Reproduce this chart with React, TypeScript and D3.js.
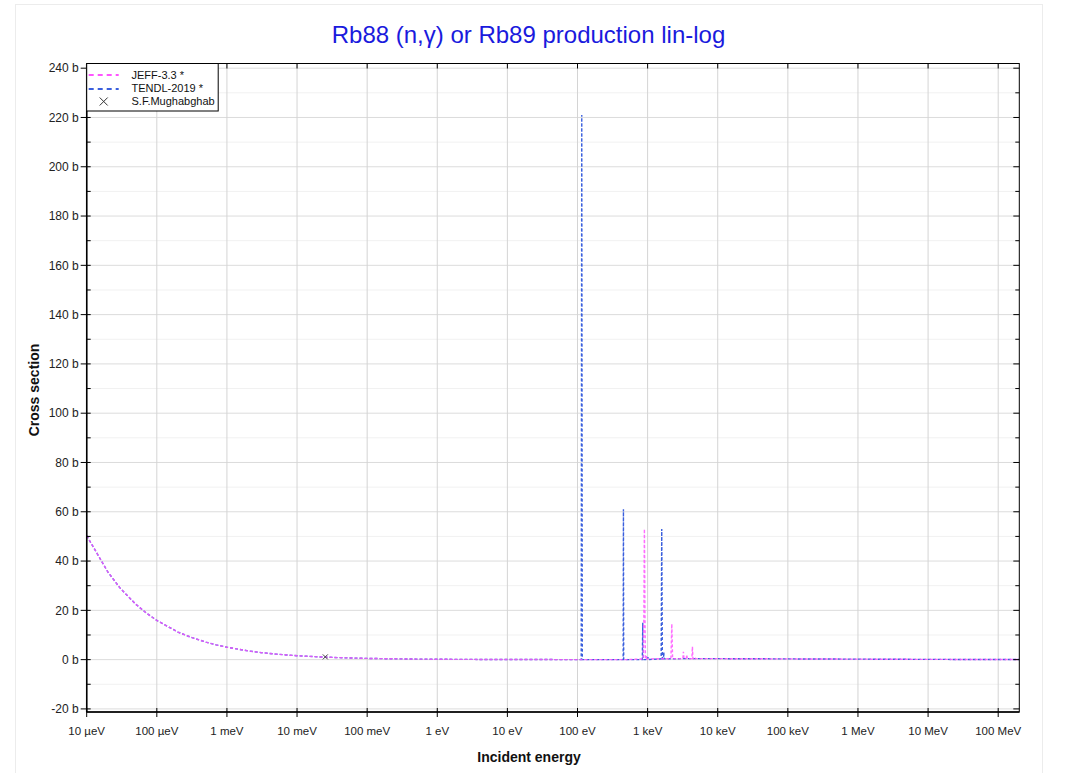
import React from "react";
import * as d3 from "d3";

// ---------- data ----------
// 1/v region shared by both evaluations (eV, barns)
const lowEnergy = [1e-5, 2e-5, 3e-5, 5e-5, 7e-5, 1e-4, 2e-4, 3e-4, 5e-4, 7e-4, 1e-3, 2e-3, 3e-3, 5e-3, 7e-3, 1e-2, 2e-2, 2.53e-2, 5e-2, 0.1, 0.2, 0.5, 1, 2, 5, 10, 20, 50];
const lowXS = [50.3, 35.6, 29.0, 22.5, 19.0, 15.9, 11.2, 9.18, 7.11, 6.01, 5.03, 3.56, 2.9, 2.25, 1.9, 1.59, 1.12, 1.0, 0.71, 0.5, 0.36, 0.22, 0.16, 0.11, 0.071, 0.05, 0.036, 0.022];

// TENDL-2019 resonance + fast region
const tendlEnergy = [100, 113, 115, 117, 200, 448, 452, 456, 840, 853, 866, 1000, 1010, 1020, 1560, 1590, 1620, 1680, 1700, 1720, 3000, 1e4, 1e5, 1e6, 1e7, 1e8, 2e8];
const tendlXS = [0.02, 0.02, 221, 0.02, 0.016, 0.01, 61, 0.01, 0.01, 15, 0.01, 0.01, 1.0, 0.01, 0.3, 53, 0.3, 0.3, 3, 0.3, 0.4, 0.4, 0.3, 0.2, 0.1, 0.05, 0.05];

// JEFF-3.3 resonance + fast region
const jeffEnergy = [100, 500, 870, 885, 893, 900, 907, 915, 930, 960, 965, 970, 2150, 2213, 2270, 3180, 3240, 3300, 3560, 3620, 3680, 4280, 4355, 4430, 4700, 4760, 4820, 6000, 1e4, 1e5, 1e6, 1e7, 1e8, 2e8];
const jeffXS = [0.02, 0.01, 0.3, 20, 40, 53, 40, 20, 0.3, 0.3, 1.5, 0.3, 0.4, 14.5, 0.4, 0.4, 3.2, 0.4, 0.4, 1.9, 0.4, 0.4, 5.3, 0.4, 0.4, 0.8, 0.4, 0.4, 0.4, 0.3, 0.2, 0.1, 0.05, 0.05];

// S.F.Mughabghab thermal point
const expEnergy = [0.0253];
const expXS = [1.1];

const xTickValues = [1e-5, 1e-4, 1e-3, 1e-2, 1e-1, 1, 10, 100, 1e3, 1e4, 1e5, 1e6, 1e7, 1e8];
const xTickLabels = ["10 µeV", "100 µeV", "1 meV", "10 meV", "100 meV", "1 eV", "10 eV", "100 eV", "1 keV", "10 keV", "100 keV", "1 MeV", "10 MeV", "100 MeV"];
const yTickValues = [-20, 0, 20, 40, 60, 80, 100, 120, 140, 160, 180, 200, 220, 240];
const yMinorValues = [-10, 10, 30, 50, 70, 90, 110, 130, 150, 170, 190, 210, 230];

const legendItems = ["JEFF-3.3 *", "TENDL-2019 *", "S.F.Mughabghab"];

// ---------- layout ----------
const W = 1067;
const H = 773;
const left = 86.7;
const right = 1019.3;
const top = 63.5;
const bottom = 712;
const FONT = "'Liberation Sans', Arial, Helvetica, sans-serif";
const JEFF_COLOR = "#ff55ff";
const TENDL_COLOR = "#3a5fdd";

export default function App() {
  const x = d3.scaleLog().domain([1e-5, 2e8]).range([left, right]);
  const y = d3.scaleLinear().domain([-21.25, 241.9]).range([bottom, top]);

  const line = d3
    .line<[number, number]>()
    .x((d) => x(d[0]))
    .y((d) => y(d[1]));

  const jeffPts: [number, number][] = [
    ...lowEnergy.map((e, i) => [e, lowXS[i]] as [number, number]),
    ...jeffEnergy.map((e, i) => [e, jeffXS[i]] as [number, number]),
  ];
  const tendlPts: [number, number][] = [
    ...lowEnergy.map((e, i) => [e, lowXS[i]] as [number, number]),
    ...tendlEnergy.map((e, i) => [e, tendlXS[i]] as [number, number]),
  ];

  const cross = (cx: number, cy: number, r: number, key: string, color: string) => (
    <g key={key} stroke={color} strokeWidth={1}>
      <line x1={cx - r} y1={cy - r} x2={cx + r} y2={cy + r} />
      <line x1={cx - r} y1={cy + r} x2={cx + r} y2={cy - r} />
    </g>
  );

  return (
    <svg width={W} height={H} style={{ position: "absolute", left: 0, top: 0, fontFamily: FONT }}>
      <rect x={0} y={0} width={W} height={H} fill="#fff" />
      <rect x={15.5} y={4.5} width={1027} height={800} fill="none" stroke="#ececec" />

      <text x={528.5} y={43} textAnchor="middle" fontSize={24} fill="#1a1add">
        Rb88 (n,γ) or Rb89 production lin-log
      </text>

      {/* grid */}
      <g>
        {yMinorValues.map((v) => (
          <line key={"ym" + v} x1={left} x2={right} y1={y(v)} y2={y(v)} stroke="#f1f1f1" strokeWidth={1} />
        ))}
        {yTickValues.map((v) => (
          <line key={"yg" + v} x1={left} x2={right} y1={y(v)} y2={y(v)} stroke="#dcdcdc" strokeWidth={1} />
        ))}
        {xTickValues.map((v) => (
          <line key={"xg" + v} x1={x(v)} x2={x(v)} y1={top} y2={bottom} stroke="#d4d4d4" strokeWidth={1} />
        ))}
      </g>

      {/* data */}
      <g fill="none" clipPath="url(#clip)">
        <clipPath id="clip">
          <rect x={left} y={top} width={right - left} height={bottom - top} />
        </clipPath>
        <path d={line(tendlPts) || ""} stroke={TENDL_COLOR} strokeWidth={1.4} strokeDasharray="3,2" />
        <path d={line(jeffPts) || ""} stroke={JEFF_COLOR} strokeWidth={1.4} strokeDasharray="3,2" strokeOpacity={0.85} />
        {expEnergy.map((e, i) => cross(x(e), y(expXS[i]), 2.5, "exp" + i, "#444"))}
      </g>

      {/* frame */}
      <rect x={left} y={top} width={right - left} height={bottom - top} fill="none" stroke="#000" strokeWidth={1} />
      <line x1={left} x2={left} y1={top} y2={bottom} stroke="#000" strokeWidth={1.5} />
      <line x1={left} x2={right} y1={bottom} y2={bottom} stroke="#000" strokeWidth={1.5} />

      {/* y axis ticks & labels */}
      <g>
        {yTickValues.map((v) => (
          <g key={"yt" + v}>
            <line x1={left - 6} x2={left + 4} y1={y(v)} y2={y(v)} stroke="#000" />
            <line x1={right - 6} x2={right} y1={y(v)} y2={y(v)} stroke="#000" />
            <text x={left - 8} y={y(v)} dy="0.35em" textAnchor="end" fontSize={12} fill="#222">
              {v} b
            </text>
          </g>
        ))}
        {yMinorValues.map((v) => (
          <g key={"ymt" + v}>
            <line x1={left} x2={left + 4} y1={y(v)} y2={y(v)} stroke="#000" />
            <line x1={right - 4} x2={right} y1={y(v)} y2={y(v)} stroke="#000" />
          </g>
        ))}
      </g>

      {/* x axis ticks & labels */}
      <g>
        {xTickValues.map((v, i) => (
          <g key={"xt" + v}>
            <line x1={x(v)} x2={x(v)} y1={bottom - 4} y2={bottom + 5} stroke="#000" />
            <line x1={x(v)} x2={x(v)} y1={top} y2={top + 5} stroke="#000" />
            <text x={x(v)} y={735} textAnchor="middle" fontSize={11.5} fill="#222">
              {xTickLabels[i]}
            </text>
          </g>
        ))}
      </g>

      {/* axis titles */}
      <text x={529} y={762} textAnchor="middle" fontSize={14} fontWeight="bold" fill="#111">
        Incident energy
      </text>
      <text
        transform={`translate(39, 390) rotate(-90)`}
        textAnchor="middle"
        fontSize={14}
        fontWeight="bold"
        fill="#111"
      >
        Cross section
      </text>

      {/* legend */}
      <g>
        <rect x={left} y={top} width={131.5} height={47.5} fill="#fff" stroke="#000" strokeWidth={1} />
        <line x1={left + 2} x2={left + 32} y1={75} y2={75} stroke={JEFF_COLOR} strokeWidth={2} strokeDasharray="5,4" />
        <line x1={left + 2} x2={left + 32} y1={89} y2={89} stroke={TENDL_COLOR} strokeWidth={2} strokeDasharray="5,4" />
        {cross(left + 17, 101.5, 4, "legx", "#333")}
        {legendItems.map((t, i) => (
          <text key={t} x={131.5} y={75 + i * 13.3} dy="0.35em" fontSize={11} fill="#111">
            {t}
          </text>
        ))}
      </g>
    </svg>
  );
}
